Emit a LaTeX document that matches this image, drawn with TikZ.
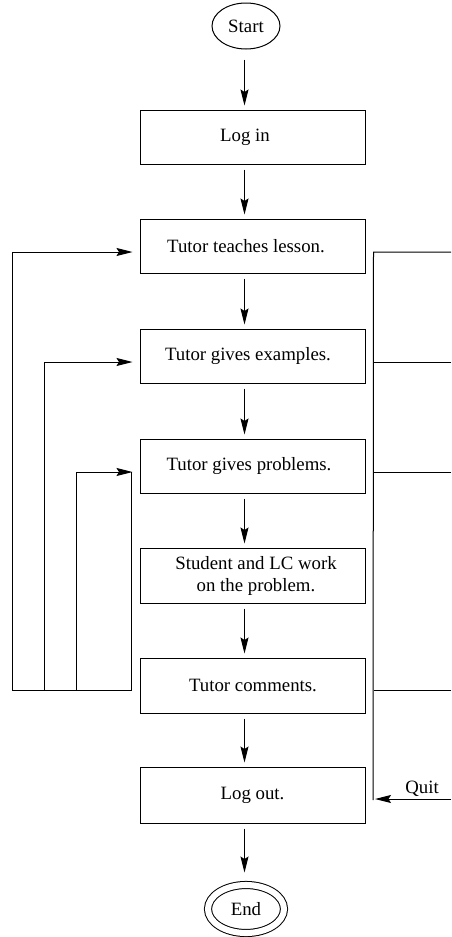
\documentclass[tikz,border=0pt]{standalone}
\usepackage{fontspec}
\setmainfont{Liberation Serif}
\usetikzlibrary{arrows.meta,shapes.geometric}
\begin{document}
\begin{tikzpicture}[x=1pt,y=-1pt,line width=1pt,
  txt/.style={font=\fontsize{18.8}{22}\selectfont},
  box/.style={draw,rectangle,minimum width=225pt,minimum height=54pt,inner sep=0pt},
  arr/.style={-{Stealth[length=16pt,width=8pt,inset=2.5pt]}},
  down/.style={arr,shorten <=5pt,shorten >=4pt}]
\useasboundingbox (0,0) rectangle (451,937);

\node[draw,ellipse,minimum width=68pt,minimum height=46pt,inner sep=0pt,txt] (start) at (246,26) {Start};
\node[box] (login) at (252.5,137) {};
\node[txt] at ([xshift=-7.5pt]login.center) {Log in};
\node[box] (teaches) at (252.5,246) {};
\node[txt] at ([xshift=-6.5pt]teaches.center) {Tutor teaches lesson.};
\node[box] (examples) at (252.5,356) {};
\node[txt] at ([xshift=-4.5pt]examples.center) {Tutor gives examples.};
\node[box] (problems) at (252.5,466) {};
\node[txt] at ([xshift=-3.5pt]problems.center) {Tutor gives problems.};
\node[box,minimum height=55pt] (student) at (252.5,575.5) {};
\node[txt,align=center] at ([xshift=3.5pt]student.center) {Student and LC work\\ on the problem.};
\node[box,minimum height=55pt] (comments) at (252.5,685.5) {};
\node[txt] at ([xshift=0.5pt]comments.center) {Tutor comments.};
\node[box,minimum height=56pt] (logout) at (252.5,795) {};
\node[txt] at (logout.center) {Log out.};
\node[draw,double,double distance=6.1pt,ellipse,minimum width=76pt,minimum height=48pt,inner sep=0pt,txt] (end) at (246,909) {End};

% main vertical flow
\draw[arr,shorten <=10pt,shorten >=4pt] ([xshift=-1.5pt]start.south) -- ([xshift=-8pt]login.north);
\draw[down] ([xshift=-8pt]login.south) -- ([xshift=-8pt]teaches.north);
\draw[down] ([xshift=-8pt]teaches.south) -- ([xshift=-8pt]examples.north);
\draw[down] ([xshift=-8pt]examples.south) -- ([xshift=-8pt]problems.north);
\draw[down] ([xshift=-8pt]problems.south) -- ([xshift=-8pt]student.north);
\draw[down] ([xshift=-8pt]student.south) -- ([xshift=-8pt]comments.north);
\draw[down] ([xshift=-8pt]comments.south) -- ([xshift=-8pt]logout.north);
\draw[arr,shorten <=5pt,shorten >=12pt] ([xshift=-8pt]logout.south) -- ([xshift=-1.5pt]end.north);

% left feedback loops
\coordinate (c12) at (12,690);
\coordinate (c44) at (44,690);
\coordinate (c76) at (76,690);
\draw ([xshift=-8pt,yshift=-4.5pt]comments.west) -- (c12);
\draw[arr] (c12) |- ([xshift=-7pt,yshift=-6pt]teaches.west);
\draw[arr] (c44) |- ([xshift=-7pt,yshift=-6pt]examples.west);
\draw[arr] (c76) |- ([xshift=-7pt,yshift=-6pt]problems.west);
\draw ([xshift=-8pt,yshift=-4.5pt]comments.west) -- ([xshift=-8pt,yshift=-6pt]problems.west);

% right quit lines
\coordinate (e1) at (451,252);
\coordinate (e2) at (451,362);
\coordinate (e3) at (451,472);
\coordinate (e4) at (451,690);
\coordinate (e5) at (451,799);
\coordinate (rb) at (373,800);
\coordinate (qt) at (375,799);
\draw (e1) -- ([xshift=8pt,yshift=-6pt]teaches.east) -- (rb);
\draw (e2) -- ([xshift=8pt,yshift=-6pt]examples.east);
\draw (e3) -- ([xshift=8pt,yshift=-6pt]problems.east);
\draw (e4) -- ([xshift=8pt,yshift=-4.5pt]comments.east);
\draw[arr] (e5) -- (qt) node[txt,pos=0.38,anchor=south,inner sep=2pt] {Quit};
\end{tikzpicture}
\end{document}
